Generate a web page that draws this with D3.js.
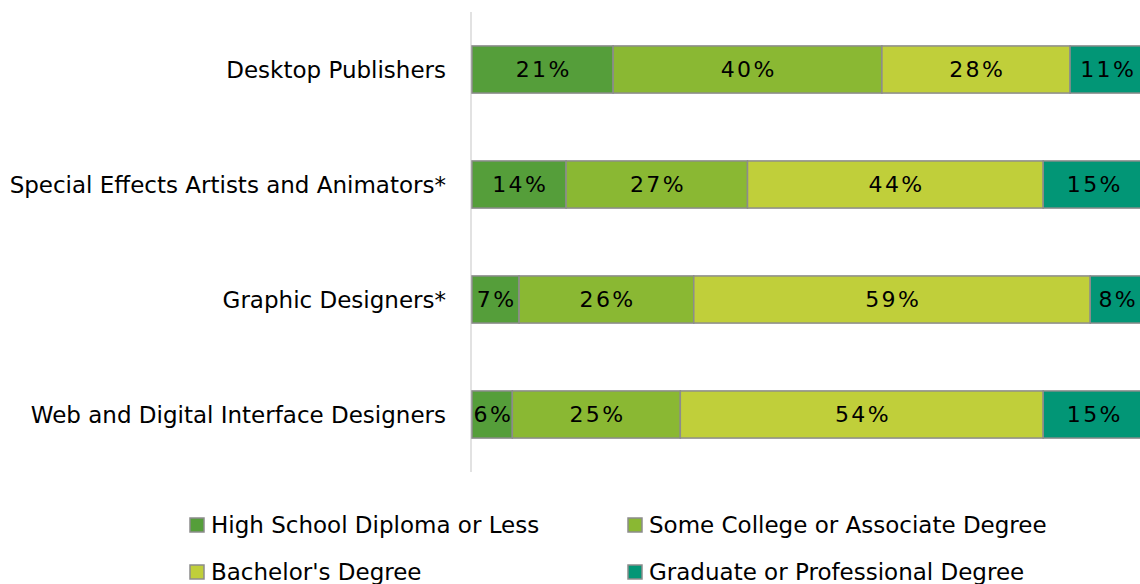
<!DOCTYPE html>
<html>
<head>
<meta charset="utf-8">
<script src="https://cdn.jsdelivr.net/npm/d3@7"></script>
<style>
  body { margin: 0; background: #fff; }
  svg text { font-family: "DejaVu Sans", sans-serif; fill: #000; }
</style>
</head>
<body>
<div id="chart"></div>
<script>
// occupations, top to bottom
let occupations = ["Desktop Publishers", "Special Effects Artists and Animators*", "Graphic Designers*", "Web and Digital Interface Designers"];
let levels = ["High School Diploma or Less", "Some College or Associate Degree", "Bachelor's Degree", "Graduate or Professional Degree"];
let highSchool = [21, 14, 7, 6];
let someCollege = [40, 27, 26, 25];
let bachelors = [28, 44, 59, 54];
let graduate = [11, 15, 8, 15];
let colors = ["#559e3a", "#8ab833", "#c0cf3a", "#029676"];

let width = 1140, height = 584;
let svg = d3.select("#chart").append("svg")
    .attr("width", width)
    .attr("height", height);

let rows = occupations.map(function(d, i) {
    return { name: d, v: [highSchool[i], someCollege[i], bachelors[i], graduate[i]] };
});

let x = d3.scaleLinear().domain([0, 100]).range([472, 1144]);
let y = d3.scaleBand().domain(occupations).range([12, 472]).paddingInner(0.59).paddingOuter(0.295);

// vertical axis line
svg.append("line")
    .attr("x1", 471).attr("x2", 471)
    .attr("y1", 12).attr("y2", 472)
    .style("stroke", "#d9d9d9")
    .style("stroke-width", 1.5);

rows.forEach(function(r) {
    let start = 0;
    r.v.forEach(function(v, k) {
        svg.append("rect")
            .attr("x", x(start))
            .attr("y", y(r.name))
            .attr("width", x(start + v) - x(start))
            .attr("height", y.bandwidth())
            .style("fill", colors[k])
            .style("stroke", "#8c8c8c")
            .style("stroke-width", 1.5);

        svg.append("text")
            .attr("x", (x(start) + x(start + v)) / 2 + 1.2)
            .attr("y", y(r.name) + y.bandwidth() / 2)
            .attr("dy", "0.36em")
            .attr("text-anchor", "middle")
            .style("font-size", "22px")
            .style("letter-spacing", "2.4px")
            .text(v + "%");
        start += v;
    });

    svg.append("text")
        .attr("x", 446)
        .attr("y", y(r.name) + y.bandwidth() / 2)
        .attr("dy", "0.36em")
        .attr("text-anchor", "end")
        .style("font-size", "23px")
        .text(r.name);
});

// legend
let legendPos = [[190, 525], [628, 525], [190, 572], [628, 572]];
levels.forEach(function(l, k) {
    svg.append("rect")
        .attr("x", legendPos[k][0])
        .attr("y", legendPos[k][1] - 7)
        .attr("width", 14)
        .attr("height", 14)
        .style("fill", colors[k])
        .style("stroke", "#8c8c8c")
        .style("stroke-width", 1.5);

    svg.append("text")
        .attr("x", legendPos[k][0] + 21)
        .attr("y", legendPos[k][1])
        .attr("dy", "0.36em")
        .style("font-size", "23px")
        .text(l);
});
</script>
</body>
</html>
